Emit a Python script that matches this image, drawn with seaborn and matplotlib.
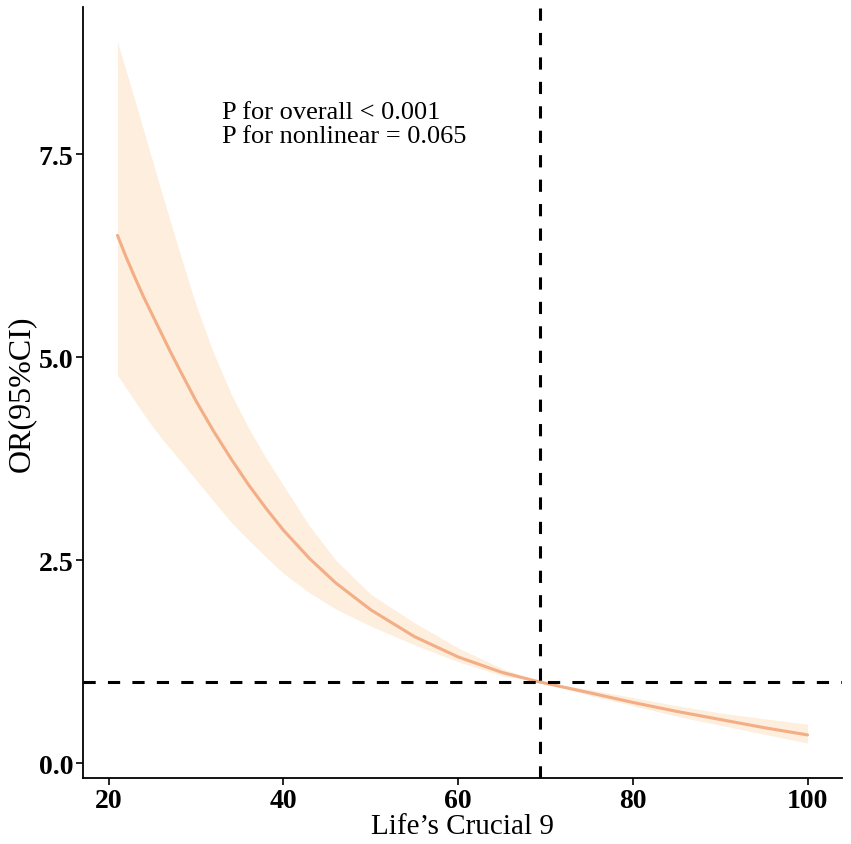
import matplotlib
matplotlib.use("Agg")
import matplotlib.pyplot as plt
import seaborn as sns
import pandas as pd

# Values (restricted cubic spline, OR with 95% CI)
lc9 = [21, 22, 23, 24, 25, 26, 27, 28, 30, 32, 34, 36, 38, 40, 43, 46, 50, 55, 60, 65,
       69.4, 75, 80, 85, 90, 95, 100]
odds = [6.50, 6.23, 5.98, 5.74, 5.52, 5.30, 5.08, 4.87, 4.46, 4.09, 3.75, 3.43, 3.14, 2.87,
        2.52, 2.22, 1.89, 1.56, 1.31, 1.12, 1.00, 0.87, 0.75, 0.64, 0.54, 0.44, 0.35]
ci_low = [4.78, 4.62, 4.46, 4.30, 4.15, 4.01, 3.88, 3.75, 3.49, 3.23, 2.97, 2.75, 2.54, 2.34,
          2.10, 1.90, 1.69, 1.46, 1.25, 1.08, 1.00, 0.84, 0.71, 0.58, 0.47, 0.36, 0.25]
ci_high = [8.88, 8.52, 8.16, 7.79, 7.42, 7.05, 6.69, 6.33, 5.64, 5.05, 4.55, 4.13, 3.76, 3.42,
           2.92, 2.50, 2.08, 1.73, 1.42, 1.17, 1.00, 0.91, 0.81, 0.71, 0.62, 0.55, 0.48]
ref_x = 69.4
ref_y = 1.0
x_ticks = [20, 40, 60, 80, 100]
y_ticks = [0.0, 2.5, 5.0, 7.5]
note = "P for overall < 0.001\nP for nonlinear = 0.065"

df = pd.DataFrame({"x": lc9, "or": odds, "lo": ci_low, "hi": ci_high})

sns.set_style("ticks")
plt.rcParams["font.family"] = ["Liberation Serif", "DejaVu Serif"]
for k in ["text.color", "axes.labelcolor", "xtick.color", "ytick.color"]:
    plt.rcParams[k] = "black"

fig = plt.figure(figsize=(8.51, 8.45), dpi=100)
ax = fig.add_axes([0.0975, 0.078, 0.892, 0.9125])

ax.fill_between(df["x"], df["lo"], df["hi"], color="#FDEEDD", linewidth=0, zorder=1)
sns.lineplot(data=df, x="x", y="or", color="#F3AE86", linewidth=2.2, ax=ax, zorder=3)

ax.axvline(ref_x, color="black", linewidth=2.2, linestyle=(0, (4, 4)), zorder=4)
ax.axhline(ref_y, color="black", linewidth=2.2, linestyle=(0, (4, 4)), zorder=4)

ax.text(33.0, 7.87, note, fontsize=19, ha="left", va="center", linespacing=1.1)

rng_x = max(lc9) - min(lc9)
ax.set_xlim(min(lc9) - 0.05 * rng_x, max(lc9) + 0.05 * rng_x)
ymin, ymax = min(ci_low), max(ci_high)
ax.set_ylim(ymin - 0.05 * (ymax - ymin), ymax + 0.05 * (ymax - ymin))

ax.set_xticks(x_ticks)
ax.set_yticks(y_ticks)
ax.set_yticklabels([f"{v:.1f}" for v in y_ticks])
ax.tick_params(axis="both", labelsize=20, length=5, width=1.2, color="black", pad=2)
for lab in ax.get_xticklabels() + ax.get_yticklabels():
    lab.set_fontweight("bold")

ax.set_xlabel("Life\u2019s Crucial 9", fontsize=21, labelpad=0)
ax.set_ylabel("OR(95%CI)", fontsize=23, labelpad=2)

sns.despine(ax=ax)
for s in ["left", "bottom"]:
    ax.spines[s].set_linewidth(1.3)
    ax.spines[s].set_color("black")

fig.savefig("out.png", dpi=100)
